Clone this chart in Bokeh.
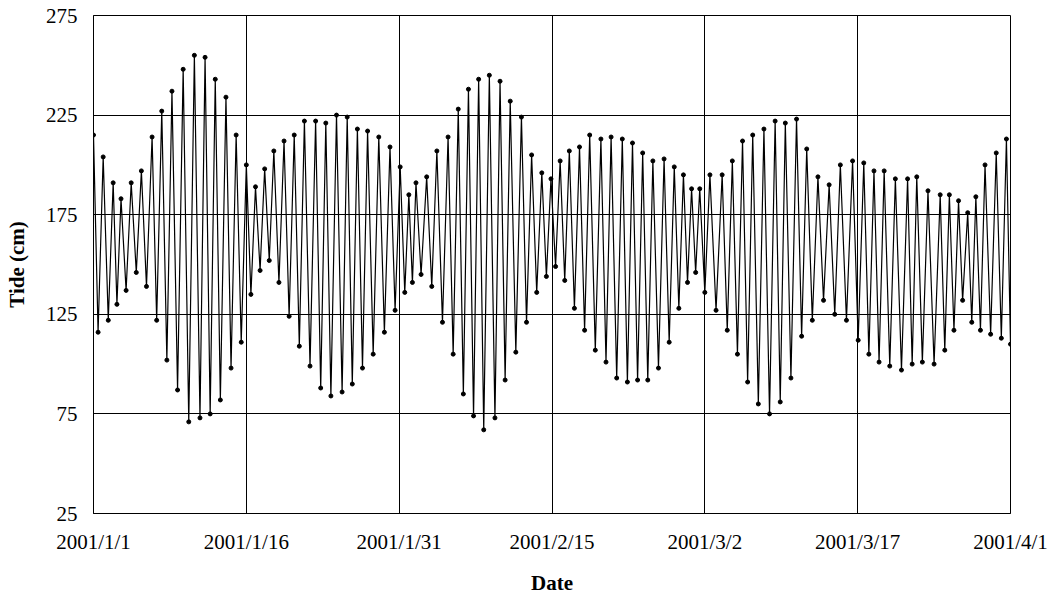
import pandas as pd
from bokeh.plotting import figure
from bokeh.models import FixedTicker, ColumnDataSource
from bokeh.embed import file_html
from bokeh.resources import INLINE

# Tide record, 2001/1/1 - 2001/4/1: successive high and low waters
# (time in days after 2001/1/1 00:00, level in cm)
high_day = [0.0, 0.95, 1.93, 2.7, 3.7, 4.7, 5.75, 6.7, 7.7, 8.8, 9.9, 10.95, 11.95, 13.0, 14.0,
            15.0, 15.9, 16.8, 17.7, 18.7, 19.7, 20.7, 21.8, 22.8, 23.85, 24.9, 25.9, 26.9, 28.0,
            29.1, 30.1, 30.95, 31.65, 32.7, 33.7, 34.8, 35.8, 36.8, 37.8, 38.85, 39.9, 40.9, 42.0,
            43.0, 44.0, 44.9, 45.8, 46.7, 47.7, 48.7, 49.8, 50.8, 51.9, 52.9, 53.9, 54.9, 56.0,
            57.0, 57.9, 58.7, 59.5, 60.5, 61.7, 62.7, 63.7, 64.7, 65.8, 66.9, 67.9, 69.0, 70.0,
            71.1, 72.2, 73.3, 74.5, 75.6, 76.6, 77.6, 78.7, 79.9, 80.8, 81.9, 83.1, 84.0, 84.9,
            85.8, 86.6, 87.5, 88.6, 89.6]
high_cm = [215, 204, 191, 183, 191, 197, 214, 227, 237, 248, 255, 254, 243, 234, 215,
           200, 189, 198, 207, 212, 215, 222, 222, 221, 225, 224, 218, 217, 214,
           209, 199, 185, 191, 194, 207, 214, 228, 238, 243, 245, 242, 232, 224,
           205, 196, 193, 202, 207, 209, 215, 213, 214, 213, 211, 206, 202, 203,
           199, 195, 188, 188, 195, 195, 202, 212, 215, 218, 222, 221, 223, 208,
           194, 190, 200, 202, 201, 197, 197, 193, 193, 194, 187, 185, 185, 182,
           176, 184, 200, 206, 213]

low_day = [0.45, 1.45, 2.3, 3.2, 4.2, 5.2, 6.2, 7.2, 8.25, 9.35, 10.45, 11.45, 12.45, 13.5, 14.5,
           15.45, 16.35, 17.25, 18.2, 19.2, 20.2, 21.25, 22.3, 23.3, 24.4, 25.4, 26.4, 27.45, 28.55,
           29.6, 30.55, 31.3, 32.15, 33.2, 34.25, 35.3, 36.3, 37.3, 38.3, 39.4, 40.4, 41.45, 42.5,
           43.5, 44.45, 45.35, 46.25, 47.2, 48.2, 49.25, 50.3, 51.35, 52.4, 53.4, 54.4, 55.45, 56.5,
           57.45, 58.3, 59.1, 60.0, 61.1, 62.2, 63.2, 64.2, 65.25, 66.35, 67.4, 68.45, 69.5, 70.55,
           71.65, 72.75, 73.9, 75.05, 76.1, 77.1, 78.15, 79.3, 80.35, 81.35, 82.5, 83.55, 84.45, 85.3,
           86.2, 87.05, 88.05, 89.1, 90.0]
low_cm = [116, 122, 130, 137, 146, 139, 122, 102, 87, 71, 73, 75, 82, 98, 111,
          135, 147, 152, 141, 124, 109, 99, 88, 84, 86, 90, 98, 105, 116,
          127, 136, 141, 145, 139, 121, 105, 85, 74, 67, 73, 92, 106, 121,
          136, 144, 149, 142, 128, 117, 107, 101, 93, 91, 92, 92, 98, 111,
          128, 141, 146, 136, 127, 117, 105, 91, 80, 75, 81, 93, 114, 122,
          132, 125, 122, 112, 105, 101, 99, 97, 100, 101, 100, 107, 117, 132,
          121, 117, 115, 113, 110]

tick_dates = ["2001-01-01", "2001-01-16", "2001-01-31", "2001-02-15",
              "2001-03-02", "2001-03-17", "2001-04-01"]
tick_labels = ["2001/1/1", "2001/1/16", "2001/1/31", "2001/2/15",
               "2001/3/2", "2001/3/17", "2001/4/1"]
y_ticks = [25, 75, 125, 175, 225, 275]

origin = pd.Timestamp("2001-01-01")
df = pd.DataFrame({"day": high_day + low_day, "cm": high_cm + low_cm}).sort_values("day")
df["t"] = origin + pd.to_timedelta(df["day"], unit="D")
src = ColumnDataSource(df)

tick_ms = [pd.Timestamp(d).value / 1e6 for d in tick_dates]

p = figure(width=1058, height=600, x_axis_type="datetime",
           x_range=(tick_ms[0], tick_ms[-1]), y_range=(25, 275),
           output_backend="svg", toolbar_location=None,
           min_border_left=93, min_border_right=48,
           min_border_top=15, min_border_bottom=87)
p.background_fill_color = "white"
p.border_fill_color = "white"
p.outline_line_color = "black"
p.outline_line_width = 1

p.line("t", "cm", source=src, line_color="black", line_width=1.2)
p.scatter("t", "cm", source=src, size=4, color="black")

font = "Liberation Serif"
p.xaxis.ticker = FixedTicker(ticks=tick_ms)
p.xaxis.major_label_overrides = {t: lab for t, lab in zip(tick_ms, tick_labels)}
p.yaxis.ticker = FixedTicker(ticks=y_ticks)

for ax in (p.xaxis, p.yaxis):
    ax.axis_line_color = "black"
    ax.major_tick_line_color = None
    ax.minor_tick_line_color = None
    ax.major_label_text_font = font
    ax.major_label_text_font_size = "21px"
    ax.major_label_text_color = "black"
    ax.axis_label_text_font = font
    ax.axis_label_text_font_size = "21px"
    ax.axis_label_text_font_style = "bold"
    ax.axis_label_text_color = "black"

p.xaxis.axis_label = "Date"
p.xaxis.major_label_standoff = 10
p.xaxis.axis_label_standoff = 14
p.yaxis.axis_label = "Tide (cm)"
p.yaxis.major_label_standoff = 10
p.yaxis.axis_label_standoff = 14

p.xgrid.ticker = FixedTicker(ticks=tick_ms)
p.ygrid.ticker = FixedTicker(ticks=y_ticks)
p.grid.grid_line_color = "black"
p.grid.grid_line_width = 1
p.grid.grid_line_alpha = 1.0

open("out.html", "w").write(file_html(p, INLINE))
